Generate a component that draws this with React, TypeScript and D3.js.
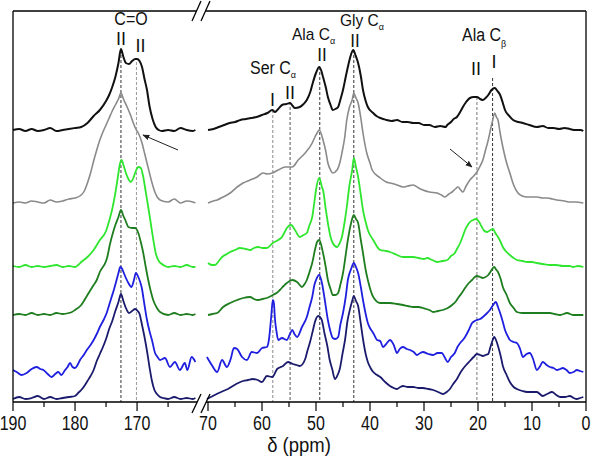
import React from 'react';
import * as d3 from 'd3';

// ---------- axis ticks ----------
const leftTicksMajor = [190, 180, 170];
const leftTicksMinor = [185, 175, 165];
const rightTicksMajor = [70, 60, 50, 40, 30, 20, 10, 0];
const rightTicksMinor = [65, 55, 45, 35, 25, 15, 5];

// ---------- spectra: [ppm, intensity above own baseline] ----------
const blackL = [[190,1],[189,2],[188,0],[187,2],[186,0],[185,1],[184,3],[183,0],[182,1],[181,2],[180,3],[179,4],[178,8],[177,15],[176,21],[175,30],[174.5,36],[174,44],[173.5,54],[173,68],[172.6,82],[172.2,74],[171.8,68],[171.3,67],[170.8,70],[170.3,72],[170,72],[169.6,70],[169.2,64],[168.8,52],[168.4,41],[168,25],[167.5,12],[167,4],[166.5,1],[166,0],[165,1],[164,0],[163,3],[162,1],[161,0],[160.6,1]];
const grayL = [[190,0],[189,1],[188,0],[187,2],[186,1],[185,0],[184,3],[183,1],[182,2],[181,4],[180,5],[179,8],[178.5,12],[178,20],[177.5,30],[177,42],[176.5,53],[176,63],[175.5,71],[175,78],[174.5,85],[174,92],[173.5,98],[173,104],[172.6,110],[172.2,104],[171.6,96],[171,87],[170.6,80],[170.2,74],[169.8,70],[169.2,60],[168.8,50],[168.4,40],[168,30],[167.4,16],[167,9],[166.3,3],[165,1],[164,4],[163,0],[162,2],[161,1],[160.6,0]];
const lgreenL = [[190,1],[189,0],[188,2],[187,0],[186,1],[185,0],[184,1],[183,2],[182,0],[181,1],[180,0],[179.5,2],[179,5],[178,10],[177,17],[176,27],[175,36],[174.5,46],[174,58],[173.5,74],[173,94],[172.8,102],[172.5,107],[172.2,102],[171.8,94],[171.4,88],[171,85],[170.6,89],[170.2,96],[169.8,100],[169.4,99],[169,90],[168.6,75],[168.2,60],[167.8,44],[167.4,28],[167,14],[166.5,6],[166,3],[165.5,1],[165,0],[164,1],[163,0],[162,2],[161,0],[160.6,0]];
const dgreenL = [[190,0],[189,1],[188,0],[187,2],[186,0],[185,1],[184,0],[183,2],[182,1],[181,2],[180.5,3],[180,5],[179,10],[178,20],[177,30],[176.5,35],[176,43],[175,54],[174.8,58],[174.4,70],[173.9,82],[173.5,90],[173,98],[172.6,105],[172.2,99],[171.9,95],[171.4,88],[170.8,87],[170.3,87],[169.8,82],[169.4,73],[169,62],[168.6,48],[168.2,35],[167.8,24],[167.4,15],[166.8,7],[166.3,3],[165,0],[164,2],[163,0],[162,1],[161,0],[160.6,1]];
const blueL = [[190,7],[189.4,5],[188.6,2],[187.8,4],[187,8],[186.2,10],[185.6,8],[185.1,7],[184.4,3],[183.8,0],[183.2,3],[182.7,5],[182.2,2],[181.6,7],[181.2,10],[180.8,14],[180.4,10],[180,9],[179.6,12],[179.2,17],[178.6,22],[178.1,27],[177.5,32],[177,37],[176.5,43],[176,50],[175.4,57],[174.9,64],[174.5,72],[174.1,80],[173.7,88],[173.3,97],[173,104],[172.7,110],[172.4,108],[172.2,105],[171.8,99],[171.4,94],[170.9,90],[170.5,97],[170.2,104],[169.8,100],[169.5,95],[169.2,88],[169,80],[168.7,68],[168.4,57],[168,46],[167.6,37],[167.1,24],[166.7,20],[166.3,17],[165.5,19],[164.7,10],[163.9,15],[163.1,7],[162.3,14],[161.9,7],[161.2,20],[160.6,15]];
const navyL = [[190,0],[189,2],[188,0],[187,1],[186,3],[185,0],[184,2],[183,0],[182,1],[181,2],[180,3],[179.5,6],[179,9],[178.5,13],[178,18],[177.5,23],[177,29],[176.5,38],[176,45],[175.5,52],[175,60],[174.5,70],[174,78],[173.5,88],[173,97],[172.6,105],[172.2,98],[171.8,91],[171.3,86],[170.8,88],[170.3,90],[169.9,88],[169.6,85],[169.2,74],[168.8,62],[168.4,48],[168,32],[167.6,18],[167.2,9],[166.8,5],[166.3,2],[165.8,1],[165,0],[164,2],[163,0],[162,1],[161,0],[160.6,1]];

const blackR = [[70,1],[69,2],[68,4],[67,6],[66,8],[65,9],[64,11],[63,12],[62,13],[61,14],[60,16],[59,18],[58.1,21],[57.6,19],[57,22],[56.3,26],[55.5,27],[54.8,28],[54.3,25],[53.9,23],[53,24],[52.3,27],[51.7,31],[51,40],[50.6,48],[50,58],[49.4,64],[49,60],[48.7,54],[48.2,44],[47.8,34],[47.3,26],[46.9,21],[46.4,22],[45.9,24],[45.5,31],[45,41],[44.5,54],[44.1,64],[43.6,75],[43.1,81],[42.7,76],[42.2,68],[41.7,55],[41.3,41],[40.8,30],[40.4,24],[39.4,18],[38.8,15],[38.1,13],[37.5,12],[36.9,11],[36,10],[35,11],[34,9],[33,9],[32,8],[31,8],[30,6],[29,6],[28,4],[27,5],[26,4],[25.7,6],[25,9],[24.5,12],[23.9,14],[23.3,19],[22.8,24],[22.2,29],[21.5,33],[20.8,34],[20.2,34],[19.6,32],[19.1,31],[18.6,33],[18.1,36],[17.5,41],[16.9,43],[16.4,40],[15.9,36],[15.4,28],[15,21],[14.2,15],[13.5,11],[12.5,9],[11.7,8],[10.5,6],[9.1,4],[8,5],[7,3],[6,3],[5,2],[4,3],[3,2],[2,1],[1,1],[0.5,0]];
const grayR = [[70,0],[69,2],[68.3,3],[67.2,6],[65.9,10],[64.6,16],[63.5,20],[62.2,23],[60.9,26],[59.8,30],[59,29],[58.1,30],[57,33],[55.7,36],[54.4,36],[53.3,43],[52,50],[50.7,60],[50.2,66],[49.8,70],[49.4,73],[48.7,63],[48.2,52],[47.8,40],[47.3,33],[46.9,30],[46.1,33],[45.6,40],[45.2,50],[44.7,65],[44.3,83],[43.8,96],[43.3,103],[43,110],[42.6,105],[42.2,100],[41.7,85],[41.3,70],[40.6,50],[40,40],[39.6,33],[38.1,25],[37,21],[36.3,20],[35,18],[33.9,16],[33,17],[32,18],[31,15],[30.2,13],[29,11],[27.6,10],[26.8,8],[26.1,6],[25.4,9],[24.8,11],[24.2,14],[23.7,16],[23.2,13],[22.8,11],[22.2,17],[21.5,23],[20.8,27],[20.2,31],[19.6,37],[19.1,43],[18.6,53],[18.1,63],[17.7,73],[17.4,80],[16.9,90],[16.6,86],[16.3,83],[15.9,70],[15.4,56],[14.8,42],[14.1,30],[13.4,18],[12.6,10],[11.8,7],[10.9,6],[10,6],[9.1,6],[8,5],[7.2,5],[6.2,4],[5.4,3],[4,2],[3,1],[2,1],[0.5,0]];
const lgreenR = [[70,4],[69.3,2],[68.7,2],[68,6],[67.4,10],[66.5,13],[65.9,15],[65,17],[64.1,19],[63,18],[62.2,17],[61.5,19],[60.7,20],[59.9,19],[59.1,19],[58,24],[57,27],[56.3,30],[55.8,35],[55.4,39],[54.6,42],[53.9,37],[53,30],[52.3,32],[51.7,34],[51.2,42],[50.7,50],[50.3,65],[50,77],[49.4,89],[48.9,80],[48.7,77],[48.2,58],[47.8,44],[47.3,30],[46.9,24],[46.1,20],[45.6,24],[45.2,30],[44.7,45],[44.3,60],[43.8,82],[43.3,97],[43,109],[42.6,100],[42.2,90],[41.7,72],[41.3,57],[40.8,45],[40.4,37],[39.4,27],[38.1,17],[37,16],[36.3,15],[35,12],[33.9,10],[33,10],[32,10],[31,9],[30,8],[29.4,9],[28.5,7],[27.6,5],[26.6,6],[25.7,7],[25,11],[24.3,14],[23.8,19],[23.3,24],[22.8,31],[22.4,37],[21.9,42],[21.5,45],[20.9,47],[20.4,48],[19.9,46],[19.3,40],[18.8,36],[18.3,35],[17.7,37],[17.2,38],[16.8,34],[16.3,30],[15.8,25],[15.4,20],[14.7,15],[14.1,12],[13.4,9],[12.8,7],[11.8,6],[10.9,5],[10,5],[9.1,4],[8,3],[6.7,2],[5.5,2],[4.3,1],[3,1],[2.4,0],[1.5,1],[0.5,0]];
const dgreenR = [[70,0],[69.2,1],[68.3,2],[67.2,8],[65.9,12],[64.6,15],[63.5,17],[62.2,18],[61.5,16],[60.7,15],[59.9,16],[59.1,17],[58,20],[57.3,22],[56.7,25],[56,29],[55.4,32],[54.4,35],[53.5,33],[52.6,28],[52.1,31],[51.7,35],[51.2,43],[50.7,52],[50.2,65],[49.8,73],[49.4,75],[48.7,62],[48.2,48],[47.8,35],[47.3,26],[46.9,20],[46.4,20],[45.9,22],[45.5,30],[45,42],[44.5,60],[44.1,75],[43.5,92],[43,100],[42.6,96],[42.2,92],[41.7,75],[41.3,62],[40.8,45],[40.4,35],[39.4,18],[38.1,12],[37,12],[36.3,12],[35,11],[33.9,10],[33,9],[32,8],[31,8],[30.2,7],[29,5],[28.3,3],[27.4,4],[26.5,5],[25.6,7],[24.8,10],[24.2,13],[23.7,17],[23,22],[22.4,27],[21.7,32],[21.1,35],[20.6,38],[20.2,39],[19.6,38],[19.1,37],[18.6,38],[18.1,40],[17.6,44],[17,48],[16.6,45],[16.3,43],[15.8,36],[15.4,28],[14.7,20],[14.1,12],[13.4,7],[12.8,3],[11.8,2],[10.9,2],[10,2],[9.1,2],[8,2],[6.7,2],[5.8,1],[4.8,0],[3.5,2],[2.4,0],[1.5,0],[0.5,0]];
const blueR = [[70.2,20],[69.3,12],[68.3,5],[67.4,17],[66.5,10],[65.8,18],[65.2,29],[64.6,28],[63.7,20],[62.8,17],[61.9,25],[60.9,24],[60,29],[59.1,30],[58.7,38],[58.3,60],[58,77],[57.8,74],[57.6,58],[57.3,45],[57,37],[56.3,39],[55.4,37],[54.9,42],[54.4,47],[54,43],[53.5,40],[52.6,50],[51.7,60],[51.2,70],[50.7,80],[50.3,92],[50,97],[49.4,102],[48.9,94],[48.4,78],[47.8,57],[47.3,45],[46.9,39],[46.4,38],[45.9,40],[45.5,52],[45,64],[44.5,80],[44.1,97],[43.5,108],[43,114],[42.6,110],[42.2,104],[41.7,90],[41.3,77],[40.8,63],[40.4,54],[39.9,48],[39.4,44],[38.7,37],[38.1,36],[37.6,30],[37,33],[36.3,37],[35.6,32],[35,24],[34.5,28],[33.9,30],[33.2,28],[32.6,27],[31.9,25],[31.3,22],[30.7,24],[30.2,25],[29.2,23],[28.3,22],[27.5,24],[26.7,24],[26.2,20],[25.6,15],[25,20],[24.3,24],[23.8,30],[23.3,34],[22.8,37],[22.4,40],[21.7,47],[21.1,54],[20.6,56],[20.2,57],[19.6,58],[19.1,60],[18.5,63],[17.8,67],[17.2,72],[16.7,75],[16.3,70],[15.9,64],[15.4,55],[15,47],[14.5,41],[14.1,37],[13.4,35],[12.8,34],[12.2,28],[11.7,20],[11,23],[10.4,24],[9.8,18],[9.1,7],[8.6,10],[8,15],[7.3,12],[6.7,10],[6,9],[5.4,7],[4.8,8],[4.3,9],[3.6,7],[3,4],[2.3,5],[1.7,7],[1.1,6],[0.5,5]];
const navyR = [[70.2,0],[69.1,3],[68,6],[67.2,8],[66.3,10],[65.4,13],[64.4,16],[63.5,18],[62.6,19],[61.7,20],[60.8,19],[60,17],[59.1,23],[58.1,22],[57.2,30],[56.1,33],[55.2,37],[54.3,35],[53.6,34],[53,33],[52,40],[51.6,48],[51.1,57],[50.6,68],[50.2,77],[49.6,83],[49,80],[48.4,65],[47.9,53],[47.5,40],[47,30],[46.5,20],[46,24],[45.6,30],[45.1,45],[44.6,60],[44.2,77],[43.7,90],[43.3,98],[43,103],[42.6,98],[42.2,93],[41.7,75],[41.3,60],[40.8,45],[40.4,37],[39.9,31],[39.4,27],[38.7,24],[38.1,22],[37.2,17],[36.3,13],[35.6,11],[35,10],[34.4,12],[33.9,13],[33,12],[32,12],[31,11],[30.2,11],[29.2,10],[28.3,9],[27.4,7],[26.5,5],[25.8,7],[25.2,10],[24.6,15],[23.9,20],[23.3,26],[22.8,30],[22.2,34],[21.5,38],[20.8,42],[20.2,45],[19.6,44],[19.1,43],[18.6,44],[18.1,45],[17.7,52],[17.4,57],[17,62],[16.6,58],[16.3,53],[15.8,43],[15.4,33],[14.7,24],[14.1,17],[13.4,12],[12.8,10],[11.8,8],[10.9,7],[10,7],[9.1,7],[8,3],[7.2,5],[6.3,7],[5.5,4],[4.8,2],[3.9,2],[3,3],[2.3,1],[1.7,0],[1.1,1],[0.5,2]];

const spectraLeft = [blackL, grayL, lgreenL, dgreenL, blueL, navyL];
const spectraRight = [blackR, grayR, lgreenR, dgreenR, blueR, navyR];
const spectrumOffsets = [271, 199, 135, 87, 25, 3];

// reference (dashed) lines: position in ppm and top in intensity units
const refPpm = [172.6, 170.1, 58.0, 54.8, 49.3, 43.0, 20.2, 17.3];
const refTop = [352, 340, 292, 300, 335, 352, 305, 324];

// ---------- styles ----------
const spectrumColors = ['#111111', '#8a8a8a', '#2ee62e', '#1e7d1e', '#1f1fe0', '#1b1b6e'];
const spectrumWidths = [2, 1.6, 1.8, 1.8, 1.8, 1.8];
const refColors = ['#333', '#999', '#888', '#555', '#333', '#333', '#777', '#333'];
const FONT = 'Liberation Sans, Arial, Helvetica, sans-serif';

export default function App() {
  const W = 591, H = 456;
  const xL = d3.scaleLinear().domain([190, 160.5]).range([13, 196]);
  const xR = d3.scaleLinear().domain([70, 0]).range([208, 586]);
  const y = d3.scaleLinear().domain([0, 391]).range([402, 11]);
  const axisY = y(0);
  const xOf = (p: number) => (p > 100 ? xL(p) : xR(p));

  const mk = (xs: any, off: number) =>
    d3.line<number[]>().x(d => xs(d[0])).y(d => y(d[1] + off)).curve(d3.curveMonotoneX);

  const label = (x: number, yy: number, content: any, size: number, anchor: string, sy: number, key: string) => (
    <text key={key} transform={`translate(${x},${yy}) scale(1,${sy})`} textAnchor={anchor as any}
      fontFamily={FONT} fontSize={size} fill="#111">{content}</text>
  );

  const tick = (xx: number, len: number, k: string) => (
    <line key={k} x1={xx} x2={xx} y1={axisY} y2={axisY + len} stroke="#000" strokeWidth={1.2} />
  );

  return (
    <svg width={W} height={H} style={{ position: 'absolute', left: 0, top: 0, background: '#fff' }}>
      <rect x={0} y={0} width={W} height={H} fill="#fff" />
      <defs>
        <marker id="ah" viewBox="0 0 10 10" refX="9" refY="5" markerWidth="7" markerHeight="7" orient="auto">
          <path d="M0,1 L10,5 L0,9 z" fill="#222" />
        </marker>
      </defs>

      {/* dashed reference lines */}
      {refPpm.map((p, i) => (
        <line key={'r' + i} x1={xOf(p)} x2={xOf(p)} y1={y(refTop[i])} y2={axisY}
          stroke={refColors[i]} strokeWidth={1} strokeDasharray="3,2" />
      ))}

      {/* spectra */}
      {spectraLeft.map((s, i) => (
        <path key={'L' + i} d={mk(xL, spectrumOffsets[i])(s as any) || ''} fill="none"
          stroke={spectrumColors[i]} strokeWidth={spectrumWidths[i]} strokeLinejoin="round" />
      ))}
      {spectraRight.map((s, i) => (
        <path key={'R' + i} d={mk(xR, spectrumOffsets[i])(s as any) || ''} fill="none"
          stroke={spectrumColors[i]} strokeWidth={spectrumWidths[i]} strokeLinejoin="round" />
      ))}

      {/* frame */}
      <g stroke="#000" strokeWidth={1.3} fill="none">
        <line x1={13} x2={13} y1={11} y2={axisY} />
        <line x1={586} x2={586} y1={11} y2={axisY} />
        <line x1={13} x2={197} y1={axisY} y2={axisY} />
        <line x1={206} x2={586} y1={axisY} y2={axisY} />
        <line x1={13} x2={197} y1={11} y2={11} />
        <line x1={206} x2={586} y1={11} y2={11} />
        {/* break marks */}
        <line x1={192} x2={201} y1={21} y2={1} />
        <line x1={201} x2={210} y1={21} y2={1} />
        <line x1={192} x2={201} y1={413} y2={394} />
        <line x1={201} x2={210} y1={413} y2={394} />
      </g>

      {/* ticks */}
      {leftTicksMajor.map(t => tick(xL(t), 9, 'lM' + t))}
      {leftTicksMinor.map(t => tick(xL(t), 5, 'lm' + t))}
      {rightTicksMajor.map(t => tick(xR(t), 9, 'rM' + t))}
      {rightTicksMinor.map(t => tick(xR(t), 5, 'rm' + t))}

      {/* tick labels */}
      {leftTicksMajor.map(t => label(xL(t), 430, String(t), 16, 'middle', 1.25, 'lt' + t))}
      {rightTicksMajor.map(t => label(xR(t), 430, String(t), 16, 'middle', 1.25, 'rt' + t))}

      {/* axis title */}
      {label(299, 452, 'δ (ppm)', 18.5, 'middle', 1.1, 'title')}

      {/* peak labels */}
      {label(131, 25, 'C=O', 16, 'middle', 1.12, 'co')}
      {label(121, 45, 'II', 18, 'middle', 1.05, 'co1')}
      {label(140.5, 52, 'II', 18, 'middle', 1.05, 'co2')}

      {label(250, 74, <>Ser C<tspan fontSize={9} dy={4}>α</tspan></>, 16, 'start', 1.1, 'ser')}
      {label(272.5, 106, 'I', 18, 'middle', 1.05, 'ser1')}
      {label(290, 99, 'II', 18, 'middle', 1.05, 'ser2')}

      {label(292, 40, <>Ala C<tspan fontSize={9} dy={4}>α</tspan></>, 15.5, 'start', 1.08, 'alaa')}
      {label(322, 61, 'II', 17, 'middle', 1.05, 'alaa2')}

      {label(340, 26, <>Gly C<tspan fontSize={9} dy={4}>α</tspan></>, 15.5, 'start', 1.08, 'gly')}
      {label(355, 47, 'II', 17, 'middle', 1.05, 'gly2')}

      {label(462, 41, <>Ala C<tspan fontSize={9} dy={5}>β</tspan></>, 16, 'start', 1.1, 'alab')}
      {label(476, 75, 'II', 18, 'middle', 1.05, 'alab2')}
      {label(494, 68, 'I', 18, 'middle', 1.05, 'alab1')}

      {/* arrows */}
      <line x1={178} y1={150} x2={143} y2={135} stroke="#222" strokeWidth={1} markerEnd="url(#ah)" />
      <line x1={450} y1={149} x2={472} y2={167} stroke="#222" strokeWidth={1} markerEnd="url(#ah)" />
    </svg>
  );
}
